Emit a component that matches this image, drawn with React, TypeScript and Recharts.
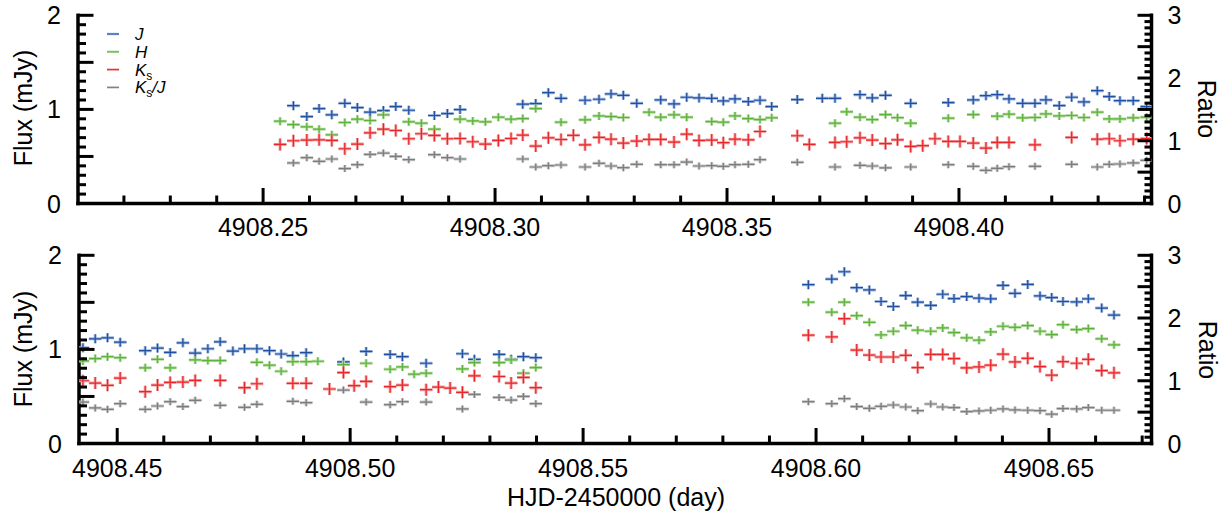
import React from 'react';
import { ScatterChart, Scatter, XAxis, YAxis, Legend } from 'recharts';

const FONT = '"Liberation Sans", Arial, Helvetica, sans-serif';

// ---------- Top panel data ----------
const topTime = [
  4908.25366, 4908.25653, 4908.25942, 4908.26207, 4908.26481, 4908.26761, 4908.27032, 4908.27306, 4908.27593, 4908.2786,
  4908.2814, 4908.28412, 4908.28692, 4908.28972, 4908.29246, 4908.29519, 4908.29791, 4908.30071, 4908.30345, 4908.30597,
  4908.30877, 4908.31149, 4908.31422, 4908.31688, 4908.3194, 4908.32241, 4908.325, 4908.32765, 4908.33054, 4908.33319,
  4908.33571, 4908.33858, 4908.34131, 4908.34397, 4908.3467, 4908.3492, 4908.35172, 4908.35459, 4908.35711, 4908.35963,
  4908.36515, 4908.36774, 4908.37054, 4908.37328, 4908.3758, 4908.37866, 4908.38131, 4908.38416, 4908.38675, 4908.38959,
  4908.39218, 4908.39483, 4908.39769, 4908.40022, 4908.40308, 4908.40582, 4908.40825, 4908.41078, 4908.41373, 4908.41638,
  4908.41875, 4908.42162, 4908.42429, 4908.42694, 4908.42981, 4908.43239, 4908.4347, 4908.43756, 4908.44045,
];
const topJ = [
  null, 1.04, 0.924, 1.009, 0.942, 1.065, 1.019, 0.97, 0.988, 1.03,
  0.991, null, 0.935, 0.956, 0.998, null, null, null, null, 1.055,
  1.062, 1.178, 1.118, null, 1.097, 1.108, 1.164, 1.15, 1.065, null,
  1.101, 1.058, 1.129, 1.122, 1.118, 1.09, 1.111, 1.083, 1.097, 1.03,
  1.104, null, 1.118, 1.118, null, 1.157, 1.122, 1.15, null, 1.065,
  null, null, 1.072, null, 1.101, 1.146, 1.157, 1.111, 1.065, 1.065,
  1.101, 1.041, 1.129, 1.079, 1.199, 1.136, 1.093, 1.093, 1.03,
];
const topH = [
  0.875, 0.839, 0.815, 0.79, 0.73, 0.861, 0.896, 0.882, 0.942, null,
  0.868, 0.854, 0.79, null, 0.896, 0.878, 0.868, 0.917, 0.896, 0.903,
  1.009, null, 0.864, null, 0.889, 0.931, 0.924, 0.914, null, 0.97,
  0.917, 0.942, 0.917, null, 0.871, 0.864, 0.931, 0.903, 0.892, 0.91,
  null, null, null, 0.854, 0.974, 0.917, 0.892, 0.945, 0.912, 0.854,
  null, null, 0.907, null, 0.945, null, 0.928, 0.949, 0.91, 0.914,
  0.952, 0.931, 0.935, 0.914, 0.97, 0.899, 0.899, 0.91, 0.917,
];
const topKs = [
  0.628, 0.667, 0.674, 0.677, 0.67, 0.582, 0.632, 0.751, 0.79, 0.776,
  0.688, 0.741, 0.723, 0.688, 0.691, 0.656, 0.632, 0.67, 0.691, 0.727,
  0.61, 0.698, 0.68, 0.724, 0.624, 0.702, 0.684, 0.642, 0.663, 0.681,
  0.681, 0.653, 0.737, 0.67, 0.674, 0.646, 0.684, 0.677, 0.765, null,
  0.72, 0.628, null, 0.649, 0.656, 0.698, 0.674, 0.637, 0.677, 0.607,
  0.614, 0.688, 0.66, 0.66, 0.642, 0.589, 0.649, 0.649, null, 0.624,
  null, null, 0.702, null, 0.684, 0.688, 0.667, 0.684, 0.691,
];
const topRatio = [
  null, 0.646, 0.73, 0.672, 0.709, 0.556, 0.619, 0.783, 0.804, 0.751,
  0.698, null, 0.778, 0.73, 0.709, null, null, null, null, 0.709,
  0.582, 0.603, 0.614, null, 0.582, 0.64, 0.598, 0.571, 0.624, null,
  0.619, 0.619, 0.661, 0.598, 0.603, 0.593, 0.619, 0.624, 0.698, null,
  0.656, null, null, 0.582, null, 0.608, 0.598, 0.568, null, 0.582,
  null, null, 0.619, null, 0.593, 0.529, 0.561, 0.587, null, 0.593,
  null, null, 0.624, null, 0.582, 0.624, 0.63, 0.646, 0.688,
];

// ---------- Bottom panel data ----------
const botTime = [
  4908.44264, 4908.44528, 4908.44792, 4908.45064, 4908.45601, 4908.45865, 4908.46137, 4908.4641, 4908.46674, 4908.46946,
  4908.4721, 4908.47483, 4908.47732, 4908.47998, 4908.48268, 4908.48519, 4908.4877, 4908.49056, 4908.49307, 4908.49556,
  4908.49856, 4908.50086, 4908.50343, 4908.50858, 4908.51122, 4908.51373, 4908.51631, 4908.51895, 4908.52146, 4908.5241,
  4908.52667, 4908.53197, 4908.53455, 4908.53719, 4908.53985, 4908.59835, 4908.60337, 4908.60607, 4908.60873, 4908.61144,
  4908.61395, 4908.61659, 4908.61925, 4908.62182, 4908.62461, 4908.62719, 4908.62961, 4908.63234, 4908.63498, 4908.63749,
  4908.64013, 4908.6427, 4908.64543, 4908.64807, 4908.65058, 4908.653, 4908.65594, 4908.65844, 4908.66131, 4908.66395,
];
const botJ = [
  1.018, 1.112, 1.123, 1.077, 0.986, 1.014, 0.968, 1.07, 0.961, 1.007,
  1.081, 0.982, 1.007, 1.007, 0.986, 0.951, 0.933, 0.965, null, null,
  0.867, null, 0.979, 0.947, 0.923, null, 0.853, null, null, 0.954,
  0.895, 0.947, 0.895, 0.923, 0.912, 1.688, 1.747, 1.825, 1.656, 1.632,
  1.509, 1.456, 1.572, 1.502, 1.467, 1.586, 1.54, 1.561, 1.544, 1.537,
  1.68, 1.596, 1.691, 1.568, 1.551, 1.509, 1.505, 1.537, 1.439, 1.365,
];
const botH = [
  0.877, 0.902, 0.923, 0.912, 0.804, 0.895, 0.804, null, 0.888, 0.881,
  0.881, null, null, 0.863, 0.832, 0.768, 0.87, 0.87, 0.874, null,
  0.839, null, 0.853, 0.789, 0.814, 0.737, 0.747, null, null, 0.793,
  0.86, 0.86, 0.888, 0.747, 0.807, 1.502, 1.396, 1.502, 1.358, 1.288,
  1.154, 1.193, 1.253, 1.204, 1.193, 1.228, 1.179, 1.123, 1.098, 1.186,
  1.246, 1.235, 1.253, 1.193, 1.158, 1.263, 1.211, 1.221, 1.112, 1.049,
];
const botKs = [
  0.667, 0.642, 0.618, 0.695, 0.551, 0.621, 0.649, 0.653, 0.67, null,
  0.67, null, 0.593, 0.635, null, null, 0.639, 0.639, null, 0.579,
  0.754, 0.614, 0.66, 0.604, 0.621, null, 0.572, 0.6, 0.589, 0.544,
  0.719, 0.712, 0.642, 0.702, 0.593, 1.151, 1.133, 1.326, 0.993, 0.94,
  0.919, 0.919, 0.937, 0.807, 0.947, 0.947, 0.902, 0.804, 0.814, 0.832,
  0.949, 0.867, 0.905, 0.818, 0.726, 0.87, 0.853, 0.895, 0.775, 0.751,
];
const botRatio = [
  0.66, 0.567, 0.545, 0.635, 0.545, 0.598, 0.667, 0.588, 0.688, null,
  0.609, null, 0.577, 0.624, null, null, 0.672, 0.651, null, null,
  0.851, null, 0.661, 0.619, 0.667, null, 0.661, null, null, 0.551,
  0.782, 0.735, 0.693, 0.751, 0.635, 0.667, 0.635, 0.714, 0.588, 0.561,
  0.593, 0.614, 0.582, 0.524, 0.63, 0.582, 0.572, 0.509, 0.519, 0.53,
  0.551, 0.535, 0.53, 0.524, 0.467, 0.556, 0.551, 0.572, 0.53, 0.53,
];

// ---------- Axis ticks / labels ----------
const topDomain = [4908.2101, 4908.4415];
const botDomain = [4908.4418, 4908.672];
const topXMajors = [4908.25, 4908.3, 4908.35, 4908.4];
const botXMajors = [4908.45, 4908.5, 4908.55, 4908.6, 4908.65];
const fluxLabels = [0, 1, 2];
const ratioLabels = [0, 1, 2, 3];

const range = (a: number, b: number, step: number) => {
  const out: number[] = [];
  const n = Math.round((b - a) / step);
  for (let i = 0; i <= n; i++) out.push(+(a + i * step).toFixed(4));
  return out;
};
const topXTicks = range(4908.22, 4908.44, 0.01);
const botXTicks = range(4908.45, 4908.67, 0.01);
const fluxTicks = range(0, 2, 0.1);
const ratioTicks = range(0, 3, 0.1);

const near = (v: number, list: number[]) => list.some((m) => Math.abs(m - v) < 1e-6);
const isHalf = (v: number) => Math.abs(v * 2 - Math.round(v * 2)) < 1e-6;

type Style = { core: string; halo: string; dx: number; dy: number };
const STYLE_J: Style = { core: '#1f4fa0', halo: '#9fb6de', dx: 6.3, dy: 4.5 };
const STYLE_H: Style = { core: '#5cb23a', halo: '#b6dca4', dx: 6.3, dy: 4 };
const STYLE_K: Style = { core: '#e8262a', halo: '#f4a2a2', dx: 6.3, dy: 6 };
const STYLE_R: Style = { core: '#7c7c7c', halo: '#c6c6c6', dx: 6.3, dy: 3.5 };

const pts = (time: number[], vals: (number | null)[]) =>
  time.map((t, i) => ({ x: t, y: vals[i] })).filter((d) => d.y !== null && d.y !== undefined);

function Cross(props: any) {
  const { cx, cy, s } = props;
  if (cx == null || cy == null || isNaN(cx) || isNaN(cy)) return <g />;
  return (
    <g>
      <line x1={cx - s.dx} x2={cx + s.dx} y1={cy} y2={cy} stroke={s.halo} strokeWidth={3} />
      <line x1={cx} x2={cx} y1={cy - s.dy} y2={cy + s.dy} stroke={s.halo} strokeWidth={3} />
      <line x1={cx - s.dx} x2={cx + s.dx} y1={cy} y2={cy} stroke={s.core} strokeWidth={1.2} />
      <line x1={cx} x2={cx} y1={cy - s.dy} y2={cy + s.dy} stroke={s.core} strokeWidth={1.2} />
    </g>
  );
}

const AXIS_LINE = { stroke: '#000', strokeWidth: 3.5, strokeLinecap: 'square' as const };
const TICK_FS = 25;

function XTick(props: any) {
  const { x, y, payload, majors, dir, labelOffset, majorLen, minorLen } = props;
  const v = payload.value;
  const major = near(v, majors);
  const len = major ? majorLen : minorLen;
  return (
    <g>
      <line x1={x} x2={x} y1={y} y2={y + dir * len} stroke="#000" strokeWidth={3} />
      {labelOffset && major ? (
        <text x={x} y={y + labelOffset} textAnchor="middle" fontSize={TICK_FS} fontFamily={FONT} fill="#000">
          {v.toFixed(2)}
        </text>
      ) : null}
    </g>
  );
}

function YTick(props: any) {
  const { x, y, payload, labels, side } = props;
  const v = payload.value;
  const major = isHalf(v);
  const len = side === 'left' ? (major ? 15.5 : 8) : major ? 14 : 7;
  const dir = side === 'left' ? 1 : -1;
  const lab = near(v, labels);
  return (
    <g>
      <line x1={x} x2={x + dir * len} y1={y} y2={y} stroke="#000" strokeWidth={3} />
      {lab ? (
        <text
          x={side === 'left' ? x - 17 : x + 16}
          y={y + 9}
          textAnchor={side === 'left' ? 'end' : 'start'}
          fontSize={TICK_FS}
          fontFamily={FONT}
          fill="#000"
        >
          {String(Math.round(v))}
        </text>
      ) : null}
    </g>
  );
}

const LEGEND_ITEMS: { style: Style; label: React.ReactNode }[] = [
  { style: STYLE_J, label: <tspan fontStyle="italic">J</tspan> },
  { style: STYLE_H, label: <tspan fontStyle="italic">H</tspan> },
  {
    style: STYLE_K,
    label: (
      <>
        <tspan fontStyle="italic">K</tspan>
        <tspan fontSize={12} dy={4}>s</tspan>
      </>
    ),
  },
  {
    style: STYLE_R,
    label: (
      <>
        <tspan fontStyle="italic">K</tspan>
        <tspan fontSize={12} dy={4}>s</tspan>
        <tspan fontStyle="italic" dy={-4}>/J</tspan>
      </>
    ),
  },
];

function LegendBox() {
  return (
    <svg width={120} height={80} style={{ display: 'block', overflow: 'visible' }}>
      {LEGEND_ITEMS.map((it, i) => {
        const y = 12 + i * 17.8;
        return (
          <g key={i}>
            <line x1={7} x2={19} y1={y} y2={y} stroke={it.style.halo} strokeWidth={2.4} />
            <line x1={7} x2={19} y1={y} y2={y} stroke={it.style.core} strokeWidth={1} />
            <text x={35} y={y + 6} fontSize={17} fontFamily={FONT} fill="#000">
              {it.label}
            </text>
          </g>
        );
      })}
    </svg>
  );
}

type PanelProps = {
  height: number;
  top: number;
  xAxisHeight: number;
  leftWidth: number;
  rightWidth: number;
  domain: number[];
  xTicks: number[];
  majors: number[];
  labelOffset: number;
  time: number[];
  J: (number | null)[];
  H: (number | null)[];
  Ks: (number | null)[];
  R: (number | null)[];
  legend?: boolean;
};

function Panel(p: PanelProps) {
  return (
    <ScatterChart width={1229} height={p.height} margin={{ top: p.top, right: 0, bottom: 0, left: 0 }}>
      <XAxis
        xAxisId="b"
        type="number"
        dataKey="x"
        domain={p.domain}
        allowDataOverflow
        ticks={p.xTicks}
        interval={0}
        tickSize={0}
        tickMargin={0}
        height={p.xAxisHeight}
        axisLine={AXIS_LINE}
        tickLine={false}
        tick={(tp: any) => (
          <XTick {...tp} majors={p.majors} dir={-1} labelOffset={p.labelOffset} majorLen={15.5} minorLen={8} />
        )}
      />
      <XAxis
        xAxisId="t"
        orientation="top"
        type="number"
        dataKey="x"
        domain={p.domain}
        allowDataOverflow
        ticks={p.xTicks}
        interval={0}
        tickSize={0}
        tickMargin={0}
        height={0}
        axisLine={AXIS_LINE}
        tickLine={false}
        tick={(tp: any) => <XTick {...tp} majors={p.majors} dir={1} labelOffset={0} majorLen={11} minorLen={5.5} />}
      />
      <YAxis
        yAxisId="l"
        type="number"
        dataKey="y"
        domain={[0, 2]}
        allowDataOverflow
        ticks={fluxTicks}
        interval={0}
        tickSize={0}
        tickMargin={0}
        width={p.leftWidth}
        axisLine={AXIS_LINE}
        tickLine={false}
        tick={(tp: any) => <YTick {...tp} labels={fluxLabels} side="left" />}
      />
      <YAxis
        yAxisId="r"
        orientation="right"
        type="number"
        dataKey="y"
        domain={[0, 3]}
        allowDataOverflow
        ticks={ratioTicks}
        interval={0}
        tickSize={0}
        tickMargin={0}
        width={p.rightWidth}
        axisLine={AXIS_LINE}
        tickLine={false}
        tick={(tp: any) => <YTick {...tp} labels={ratioLabels} side="right" />}
      />
      <Scatter
        name="J"
        xAxisId="b"
        yAxisId="l"
        data={pts(p.time, p.J)}
        isAnimationActive={false}
        shape={(sp: any) => <Cross cx={sp.cx} cy={sp.cy} s={STYLE_J} />}
      />
      <Scatter
        name="H"
        xAxisId="b"
        yAxisId="l"
        data={pts(p.time, p.H)}
        isAnimationActive={false}
        shape={(sp: any) => <Cross cx={sp.cx} cy={sp.cy} s={STYLE_H} />}
      />
      <Scatter
        name="Ks"
        xAxisId="b"
        yAxisId="l"
        data={pts(p.time, p.Ks)}
        isAnimationActive={false}
        shape={(sp: any) => <Cross cx={sp.cx} cy={sp.cy} s={STYLE_K} />}
      />
      <Scatter
        name="Ks/J"
        xAxisId="b"
        yAxisId="r"
        data={pts(p.time, p.R)}
        isAnimationActive={false}
        shape={(sp: any) => <Cross cx={sp.cx} cy={sp.cy} s={STYLE_R} />}
      />
      {p.legend ? (
        <Legend
          layout="vertical"
          align="center"
          verticalAlign="middle"
          wrapperStyle={{ left: 100, top: 22, width: 120, height: 80 }}
          content={() => <LegendBox />}
        />
      ) : null}
    </ScatterChart>
  );
}

export default function App() {
  return (
    <div style={{ position: 'absolute', left: 0, top: 0, width: 1229, height: 516, background: '#fff' }}>
      <div style={{ position: 'absolute', left: 0, top: 0 }}>
        <Panel
          height={240}
          top={15.3}
          xAxisHeight={36.5}
          leftWidth={78}
          rightWidth={77.5}
          domain={topDomain}
          xTicks={topXTicks}
          majors={topXMajors}
          labelOffset={32}
          time={topTime}
          J={topJ}
          H={topH}
          Ks={topKs}
          R={topRatio}
          legend
        />
      </div>
      <div style={{ position: 'absolute', left: 0, top: 240 }}>
        <Panel
          height={276}
          top={15.3}
          xAxisHeight={72.5}
          leftWidth={79}
          rightWidth={77.5}
          domain={botDomain}
          xTicks={botXTicks}
          majors={botXMajors}
          labelOffset={33}
          time={botTime}
          J={botJ}
          H={botH}
          Ks={botKs}
          R={botRatio}
        />
      </div>
      <svg
        width={1229}
        height={516}
        style={{ position: 'absolute', left: 0, top: 0, pointerEvents: 'none' }}
        fontFamily={FONT}
      >
        <text x={23} y={108} transform="rotate(-90 23 108)" textAnchor="middle" dominantBaseline="central" fontSize={25}>
          Flux (mJy)
        </text>
        <text x={23} y={349} transform="rotate(-90 23 349)" textAnchor="middle" dominantBaseline="central" fontSize={25}>
          Flux (mJy)
        </text>
        <text x={1207} y={109} transform="rotate(90 1207 109)" textAnchor="middle" dominantBaseline="central" fontSize={25}>
          Ratio
        </text>
        <text x={1208} y={350} transform="rotate(90 1208 350)" textAnchor="middle" dominantBaseline="central" fontSize={25}>
          Ratio
        </text>
        <text x={616} y={506} textAnchor="middle" fontSize={25}>
          HJD-2450000 (day)
        </text>
      </svg>
    </div>
  );
}
